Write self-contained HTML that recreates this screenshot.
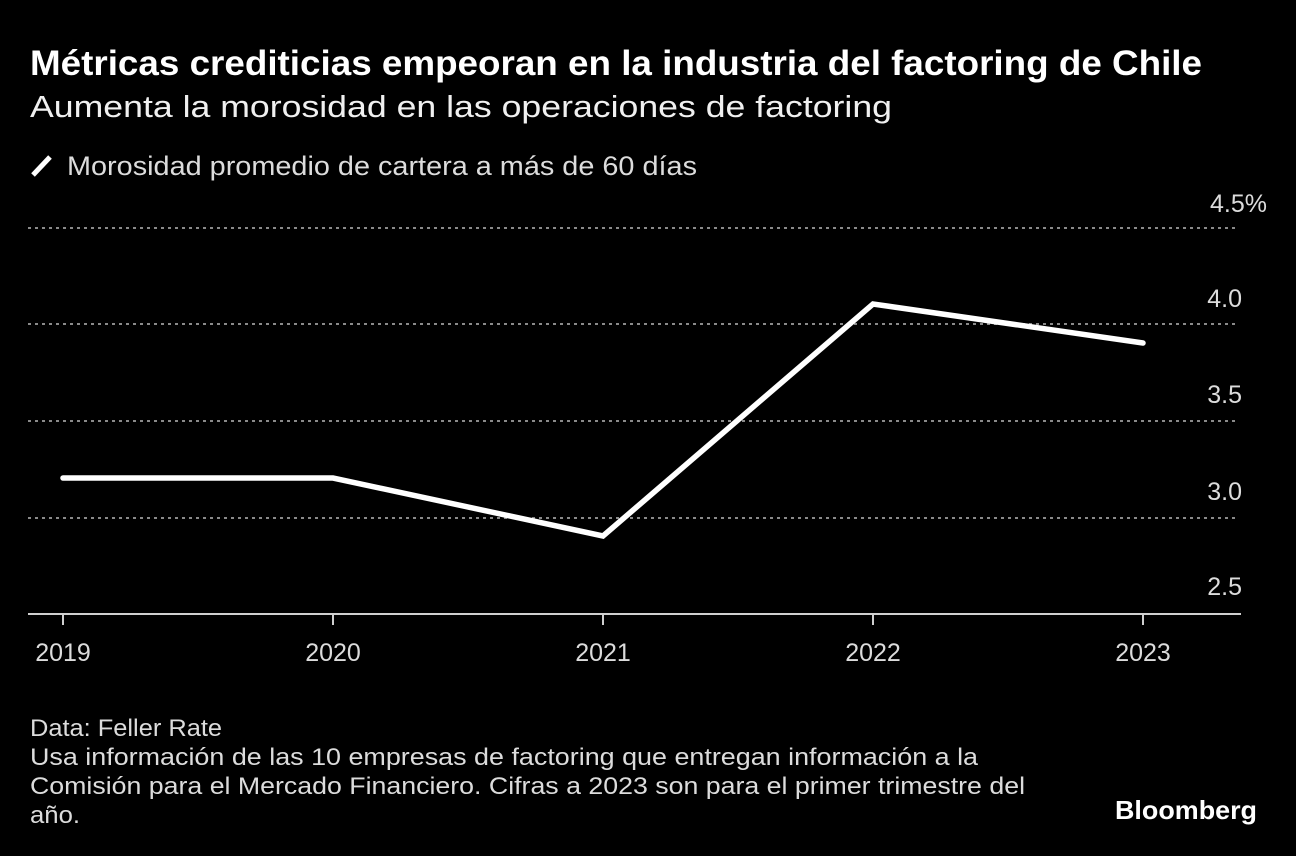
<!DOCTYPE html>
<html>
<head>
<meta charset="utf-8">
<style>
  html, body { margin:0; padding:0; background:#000; }
  body { width:1296px; height:856px; overflow:hidden; }
  svg { display:block; }
  text { font-family: "Liberation Sans", "DejaVu Sans", sans-serif; }
</style>
</head>
<body>
<svg width="1296" height="856" viewBox="0 0 1296 856" xmlns="http://www.w3.org/2000/svg">
  <rect x="0" y="0" width="1296" height="856" fill="#000"/>

  <!-- Title -->
  <text x="30" y="75" font-size="35" font-weight="bold" fill="#ffffff" textLength="1172" lengthAdjust="spacingAndGlyphs">Métricas crediticias empeoran en la industria del factoring de Chile</text>
  <!-- Subtitle -->
  <text x="30" y="117" font-size="31" fill="#f0f0f0" textLength="862" lengthAdjust="spacingAndGlyphs">Aumenta la morosidad en las operaciones de factoring</text>

  <!-- Legend -->
  <line x1="33" y1="175" x2="50" y2="157" stroke="#ffffff" stroke-width="5" stroke-linecap="butt"/>
  <text x="67" y="175" font-size="27" fill="#dcdcdc" textLength="630" lengthAdjust="spacingAndGlyphs">Morosidad promedio de cartera a más de 60 días</text>

  <!-- Gridlines -->
  <g stroke="#8a8a8a" stroke-width="2" stroke-dasharray="3,4">
    <line x1="28" y1="228" x2="1239" y2="228"/>
    <line x1="28" y1="324" x2="1239" y2="324"/>
    <line x1="28" y1="421" x2="1239" y2="421"/>
    <line x1="28" y1="518" x2="1239" y2="518"/>
  </g>

  <!-- Y labels -->
  <g font-size="25" fill="#dcdcdc" text-anchor="end">
    <text x="1267" y="212">4.5%</text>
    <text x="1242" y="307">4.0</text>
    <text x="1242" y="403">3.5</text>
    <text x="1242" y="500">3.0</text>
    <text x="1242" y="595">2.5</text>
  </g>

  <!-- X axis -->
  <line x1="28" y1="614" x2="1241" y2="614" stroke="#cfcfcf" stroke-width="2"/>
  <g stroke="#cfcfcf" stroke-width="2">
    <line x1="63" y1="614" x2="63" y2="625"/>
    <line x1="333" y1="614" x2="333" y2="625"/>
    <line x1="603" y1="614" x2="603" y2="625"/>
    <line x1="873" y1="614" x2="873" y2="625"/>
    <line x1="1143" y1="614" x2="1143" y2="625"/>
  </g>
  <g font-size="25" fill="#dcdcdc" text-anchor="middle">
    <text x="63" y="661">2019</text>
    <text x="333" y="661">2020</text>
    <text x="603" y="661">2021</text>
    <text x="873" y="661">2022</text>
    <text x="1143" y="661">2023</text>
  </g>

  <!-- Series -->
  <polyline points="63,478 333,478 603,536 873,304 1143,343" fill="none" stroke="#ffffff" stroke-width="5.5" stroke-linejoin="miter" stroke-linecap="round"/>

  <!-- Footer -->
  <g font-size="24" fill="#dcdcdc">
    <text x="30" y="736" textLength="192" lengthAdjust="spacingAndGlyphs">Data: Feller Rate</text>
    <text x="30" y="765" textLength="948" lengthAdjust="spacingAndGlyphs">Usa información de las 10 empresas de factoring que entregan información a la</text>
    <text x="30" y="794" textLength="995" lengthAdjust="spacingAndGlyphs">Comisión para el Mercado Financiero. Cifras a 2023 son para el primer trimestre del</text>
    <text x="30" y="823" textLength="50" lengthAdjust="spacingAndGlyphs">año.</text>
  </g>
  <text x="1115" y="819" font-size="26" font-weight="bold" fill="#ffffff" textLength="142" lengthAdjust="spacingAndGlyphs">Bloomberg</text>
</svg>
</body>
</html>
